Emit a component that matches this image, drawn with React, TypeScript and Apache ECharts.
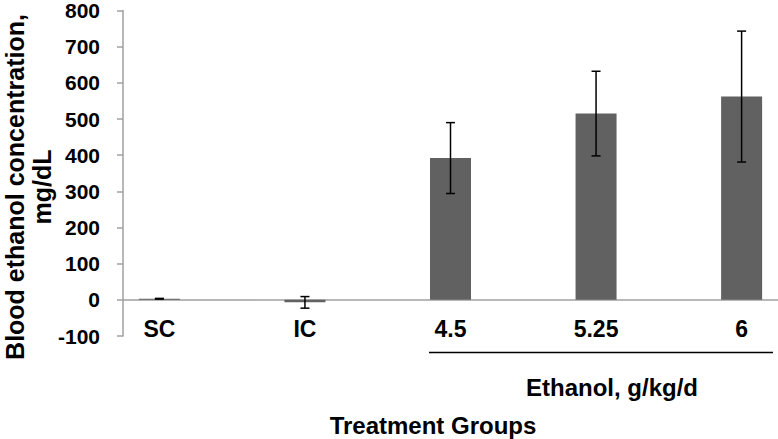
import React, { useEffect, useRef } from "react";
import * as echarts from "echarts";

const categories = ["SC", "IC", "4.5", "5.25", "6"];
const means = [3, -7, 392, 515, 562];
const errors = [1, 16, 98, 117, 181];
const yTicks = { min: -100, max: 800, interval: 100 };

const FONT = "'Liberation Sans', Arial, sans-serif";

export default function App() {
  const ref = useRef<HTMLDivElement>(null);
  useEffect(() => {
    if (!ref.current) return;
    const chart = echarts.init(ref.current, undefined, { renderer: "svg" });
    const barData = categories.map((_, i) => [i, means[i]]);
    const errData = categories.map((_, i) => [i, means[i], errors[i]]);
    chart.setOption({
      animation: false,
      backgroundColor: "#fff",
      textStyle: { fontFamily: FONT },
      grid: { left: 123, right: 0, top: 9, bottom: 103, containLabel: false },
      xAxis: {
        type: "value",
        min: -0.25,
        max: 4.25,
        axisLine: { show: true, onZero: true, lineStyle: { color: "#a0a0a0", width: 1.5 } },
        axisTick: { show: false },
        splitLine: { show: false },
        axisLabel: {
          customValues: [0, 1, 2, 3, 4],
          formatter: (v: number) => categories[Math.round(v)] ?? "",
          color: "#000",
          fontWeight: "bold",
          fontSize: 23,
          fontFamily: FONT,
          margin: -19,
        },
      },
      yAxis: {
        type: "value",
        min: yTicks.min,
        max: yTicks.max,
        interval: yTicks.interval,
        axisLine: { show: true, onZero: false, lineStyle: { color: "#a0a0a0", width: 1.5 } },
        axisTick: { show: true, length: 6, lineStyle: { color: "#a0a0a0", width: 1.5 } },
        splitLine: { show: false },
        axisLabel: {
          color: "#000",
          fontWeight: "bold",
          fontSize: 21,
          fontFamily: FONT,
          margin: 23,
        },
      },
      series: [
        {
          type: "bar",
          data: barData,
          barWidth: 41,
          itemStyle: { color: "#616161" },
        },
        {
          type: "custom",
          data: errData,
          z: 5,
          renderItem: (params: any, api: any) => {
            const x = api.value(0);
            const y = api.value(1);
            const e = api.value(2);
            const top = api.coord([x, y + e]);
            const bot = api.coord([x, y - e]);
            const hw = 4.5;
            const style = { stroke: "#000", lineWidth: 1.5 };
            return {
              type: "group",
              children: [
                { type: "line", shape: { x1: top[0], y1: top[1], x2: bot[0], y2: bot[1] }, style },
                { type: "line", shape: { x1: top[0] - hw, y1: top[1], x2: top[0] + hw, y2: top[1] }, style },
                { type: "line", shape: { x1: bot[0] - hw, y1: bot[1], x2: bot[0] + hw, y2: bot[1] }, style },
              ],
            };
          },
        },
      ],
      graphic: [
        {
          type: "text",
          x: 28,
          y: 187,
          rotation: Math.PI / 2,
          style: {
            text: "Blood ethanol concentration,\nmg/dL",
            fontSize: 25,
            fontWeight: "bold",
            fontFamily: FONT,
            fill: "#000",
            align: "center",
            verticalAlign: "middle",
            lineHeight: 27,
          },
        },
        {
          type: "line",
          shape: { x1: 429, y1: 352.5, x2: 773, y2: 352.5 },
          style: { stroke: "#000", lineWidth: 1.5 },
        },
        {
          type: "text",
          x: 612,
          y: 387,
          style: {
            text: "Ethanol, g/kg/d",
            fontSize: 24,
            fontWeight: "bold",
            fontFamily: FONT,
            fill: "#000",
            align: "center",
            verticalAlign: "middle",
          },
        },
        {
          type: "text",
          x: 433,
          y: 425,
          style: {
            text: "Treatment Groups",
            fontSize: 24,
            fontWeight: "bold",
            fontFamily: FONT,
            fill: "#000",
            align: "center",
            verticalAlign: "middle",
          },
        },
      ],
    });
    return () => chart.dispose();
  }, []);
  return (
    <div
      ref={ref}
      style={{ position: "fixed", left: 0, top: 0, width: 778, height: 439 }}
    />
  );
}
